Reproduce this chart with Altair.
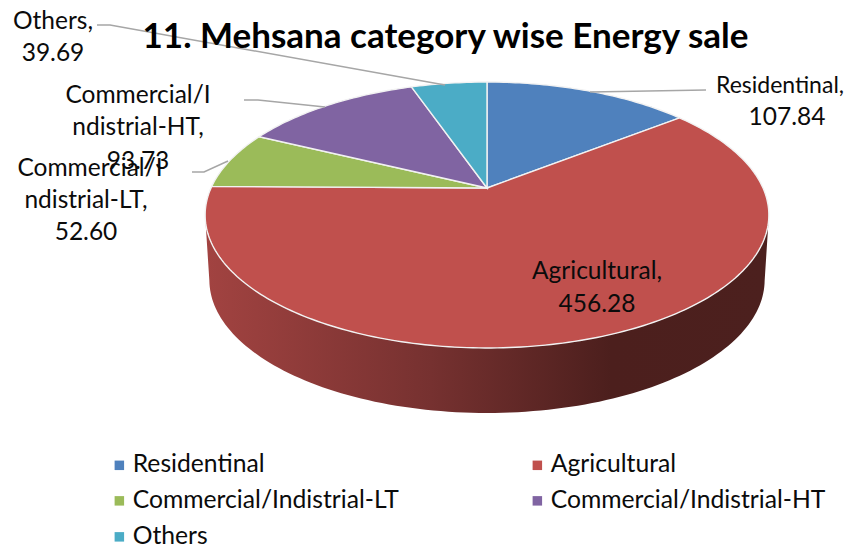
import math
import altair as alt

categories = ["Residentinal", "Agricultural", "Commercial/Indistrial-LT", "Commercial/Indistrial-HT", "Others"]
values = [107.84, 456.28, 52.60, 93.73, 39.69]
colors = ["#4f81bd", "#c0504d", "#9bbb59", "#8064a2", "#4bacc6"]
title = "11. Mehsana category wise Energy sale"

# layout of the tilted pie, in picture pixels
CX, CY, A, B, K, DEPTH = 487.0, 188.0, 276.0, 127.5, 0.203, 65.0
FONT = "Lato"


def rim(deg, dy=0.0, sx=1.0):
    t = math.radians(deg)
    w = 1 + K * math.cos(t)
    return [CX + sx * A * math.sin(t) / w, CY - B * math.cos(t) / w + dy]


total = sum(values)
features = []
start = 0.0
for name, v in zip(categories, values):
    end = start + v / total * 360
    n = max(4, int(end - start))
    pts = [[CX, CY]] + [rim(start + (end - start) * i / n) for i in range(n + 1)] + [[CX, CY]]
    features.append({"type": "Feature", "properties": {"name": name}, "geometry": {"type": "Polygon", "coordinates": [pts]}})
    start = end

# side wall: visible front of the pie, between both side extremes
wall_angles = [102 + (258 - 102) * i / 120 for i in range(121)]
top_edge = [rim(a) for a in wall_angles]
low_edge = [rim(a, DEPTH, 0.985) for a in wall_angles]
wall = {"type": "Feature", "properties": {"name": "wall"},
        "geometry": {"type": "Polygon", "coordinates": [top_edge + low_edge[::-1] + [top_edge[0]]]}}

proj = dict(type="identity", scale=1, translate=[-8, -8])


def geo(feats):
    return alt.InlineData(values={"type": "FeatureCollection", "features": feats},
                          format=alt.DataFormat(property="features", type="json"))


wall_layer = alt.Chart(geo([wall])).mark_geoshape(
    strokeWidth=0,
    fill=alt.LinearGradient(
        gradient="linear", x1=0, x2=1, y1=0, y2=0,
        stops=[alt.GradientStop(offset=0, color="#a24341"),
               alt.GradientStop(offset=0.40, color="#763130"),
               alt.GradientStop(offset=0.72, color="#4c1f1d"),
               alt.GradientStop(offset=1, color="#4c201e")],
    )
).project(**proj)

slices = alt.Chart(geo(features)).mark_geoshape(stroke="#f2f2f2", strokeWidth=1.4).encode(
    color=alt.Color("properties.name:N",
                    scale=alt.Scale(domain=categories, range=colors),
                    legend=alt.Legend(orient="none", legendX=99, legendY=444.5, columns=2, title=None,
                                      direction="horizontal", padding=0,
                                      symbolType="square", symbolSize=90, symbolStrokeWidth=0,
                                      labelFont=FONT, labelFontSize=24.7, labelColor="#0b0b0b",
                                      labelLimit=400, labelOffset=1, columnPadding=126, rowPadding=10,
                                      symbolOpacity=1))
).project(**proj)

# leader lines: group, x, y in picture pixels
lead_x = [97, 110, 445, 244, 258, 325, 192, 204, 228, 706, 590]
lead_y = [25, 25, 85, 100, 100, 107, 172, 172, 161, 90, 92]
lead_g = ["O", "O", "O", "H", "H", "H", "L", "L", "L", "R", "R"]
lead_o = list(range(len(lead_x)))
xs = alt.Scale(domain=[8, 851])
ys = alt.Scale(domain=[8, 544], reverse=True)
leaders = alt.Chart(alt.Data(values=[{"x": a, "y": b, "g": c, "o": d} for a, b, c, d in zip(lead_x, lead_y, lead_g, lead_o)])).mark_line(
    color="#a6a6a6", strokeWidth=1.5).encode(
    x=alt.X("x:Q", scale=xs, axis=None), y=alt.Y("y:Q", scale=ys, axis=None), detail="g:N", order="o:Q")

label_lines = ["Others,", f"{values[4]:.2f}",
               "Commercial/I", "ndistrial-HT,", f"{values[3]:.2f}",
               "Commercial/I", "ndistrial-LT,", f"{values[2]:.2f}",
               "Residentinal,", f"{values[0]:.2f}",
               "Agricultural,", f"{values[1]:.2f}"]
label_x = [53, 53, 138, 138, 138, 90, 86, 86, 780, 787, 597, 597]
label_y = [22, 54, 96, 128, 162, 169, 201, 233, 86, 118, 272, 305]
label_size = [24.5, 24.5, 24.5, 24.5, 24.5, 24.5, 24.5, 24.5, 23, 24.5, 24.5, 24.5]
labels = alt.Chart(alt.Data(values=[{"t": t, "x": a, "y": b, "s": s} for t, a, b, s in zip(label_lines, label_x, label_y, label_size)])).mark_text(
    font=FONT, color="#0b0b0b", align="center", baseline="middle").encode(
    x=alt.X("x:Q", scale=xs, axis=None), y=alt.Y("y:Q", scale=ys, axis=None), text="t:N",
    size=alt.Size("s:Q", scale=None))

chart = alt.layer(wall_layer, slices, leaders, labels).properties(
    width=843, height=536, padding=0,
    autosize=alt.AutoSizeParams(type="none"),
    title=alt.TitleParams(title, font=FONT, fontSize=35, fontWeight="bold", color="#000000",
                          anchor="middle", dx=16, offset=-47),
).configure_view(strokeWidth=0)

chart.save("out.html", embed_options={"renderer": "svg", "actions": False})
